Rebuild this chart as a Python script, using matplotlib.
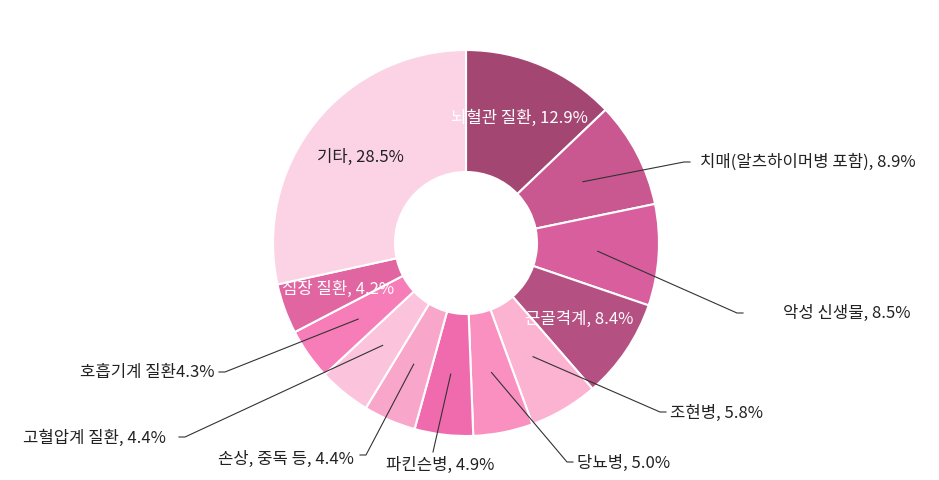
import numpy as np
import matplotlib.pyplot as plt

plt.rcParams["font.family"] = ["Noto Sans CJK KR", "DejaVu Sans"]

# data
labels = ["뇌혈관 질환", "치매(알츠하이머병 포함)", "악성 신생물", "근골격계", "조현병",
          "당뇨병", "파킨슨병", "손상, 중독 등", "고혈압계 질환", "호흡기계 질환",
          "심장 질환", "기타"]
values = [12.9, 8.9, 8.5, 8.4, 5.8, 5.0, 4.9, 4.4, 4.4, 4.3, 4.2, 28.5]
colors = ["#A34772", "#C8588F", "#D95E9E", "#B55082", "#FBB3D1", "#F990C0",
          "#F06BAE", "#F9A6CB", "#FBC3DC", "#F77DB9", "#E065A1", "#FCD3E5"]

# label text overrides (호흡기계 has no comma in the source)
label_text = [f"{l}, {v}%" for l, v in zip(labels, values)]
label_text[9] = f"{labels[9]}{values[9]}%"

# inside labels: index -> text colour
inside = {0: "white", 3: "white", 10: "white", 11: "#222222"}

# outside labels: index -> (elbow x, elbow y, text x, text y, ha) in pixel layout
outside = {
    1: (684, 162, 700, 162, "left"),
    2: (737, 313, 783, 313, "left"),
    4: (660, 412, 670, 413, "left"),
    5: (567, 462, 577, 463, "left"),
    6: (433, 452, 440, 465, "center"),
    7: (366, 455, 354, 459, "right"),
    8: (185, 437, 166, 438, "right"),
    9: (225, 372, 214, 373, "right"),
}

W, H = 939, 480
cx, cy = 466, 243
r_out, r_in = 193, 71

fig = plt.figure(figsize=(W / 100, H / 100), dpi=100)
ax = fig.add_axes([0, 0, 1, 1])

wedges, _ = ax.pie(values, colors=colors, radius=r_out, center=(cx, H - cy),
                   startangle=90, counterclock=False,
                   wedgeprops=dict(width=r_out - r_in, edgecolor="white", linewidth=1.5))

for i, w in enumerate(wedges):
    mid = np.deg2rad((w.theta1 + w.theta2) / 2)
    if i in inside:
        rr = 136
        tx = cx + rr * np.cos(mid)
        ty = (H - cy) + rr * np.sin(mid)
        ax.text(tx, ty, label_text[i], color=inside[i], fontsize=12,
                ha="center", va="center")
    elif i in outside:
        ex, ey, tx, ty, ha = outside[i]
        ax_x = cx + 132 * np.cos(mid)
        ax_y = (H - cy) + 132 * np.sin(mid)
        if ha == "left":
            hx = ex + 6
        elif ha == "right":
            hx = ex - 6
        else:
            hx = ex
        ax.plot([ax_x, ex, hx], [ax_y, H - ey, H - ey], color="#333333", lw=0.8)
        ax.text(tx, H - ty, label_text[i], color="#222222", fontsize=12,
                ha=ha, va="center")

ax.set_xlim(0, W)
ax.set_ylim(0, H)
ax.set_aspect("equal")
ax.axis("off")

fig.savefig("out.png", dpi=100, facecolor="white")
